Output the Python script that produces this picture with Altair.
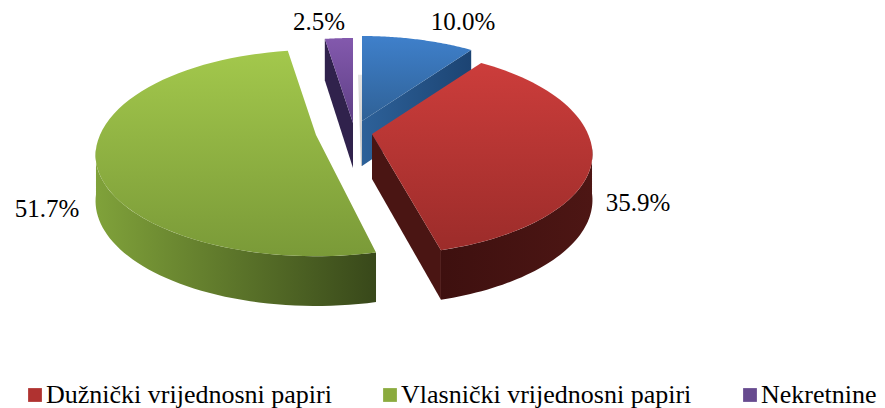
import numpy as np
import altair as alt

labels = ["Blue", "Dužnički vrijednosni papiri", "Vlasnički vrijednosni papiri", "Nekretnine"]
values = [10.0, 35.9, 51.7, 2.5]
pct_text = ["10.0%", "35.9%", "51.7%", "2.5%"]
legend_names = labels[1:]
legend_colors = ["#b03230", "#8bab3e", "#674b8f"]

M = 8
K = 0.2
A, B_BACK, B_FRONT = 216.0, 102.0, 97.0
DEPTH = 45.0
GREEN_START_TWEAK = 2.0
apex = {0: (362, 121), 1: (372, 134), 2: (316, 135), 3: (353, 123)}

cum = np.concatenate([[0], np.cumsum(values)]) / sum(values) * 360


def proj(c, th, r=1.0, low=False):
    t = np.radians(th)
    X, Y = r * np.sin(t), r * np.cos(t)
    s = 1 / (1 + K * Y)
    b = B_BACK if Y > 0 else B_FRONT
    px = c[0] + A * X * s - M
    py = c[1] - b * Y * s - M
    if low:
        py += DEPTH * s ** 0.45
    return [float(px), float(py)]


def grad(c1, c2, horizontal=False):
    return alt.Gradient(
        gradient="linear",
        stops=[alt.GradientStop(color=c1, offset=0), alt.GradientStop(color=c2, offset=1)],
        x1=0, x2=1 if horizontal else 0, y1=0, y2=0 if horizontal else 1,
    )


def shape(pts, fill, opacity=1.0):
    feat = {"type": "Feature", "properties": {},
            "geometry": {"type": "Polygon", "coordinates": [pts + [pts[0]]]}}
    return alt.Chart(alt.Data(values=[feat])).mark_geoshape(
        fill=fill, stroke=None, opacity=opacity
    ).project(type="identity", scale=1, translate=[0, 0])


def top(i, fill, a=None):
    c = apex[i]
    ths = np.linspace(cum[i] if a is None else a, cum[i + 1], 60)
    return shape([proj(c, 0, 0)] + [proj(c, t) for t in ths], fill)


def rim(i, a, b, fill):
    c = apex[i]
    ths = np.linspace(a, b, 50)
    return shape([proj(c, t) for t in ths] + [proj(c, t, low=True) for t in ths[::-1]], fill)


def cut(i, th, fill):
    c = apex[i]
    return shape([proj(c, 0, 0), proj(c, th), proj(c, th, low=True), proj(c, 0, 0, low=True)], fill)


green_start = cum[2] + GREEN_START_TWEAK
sx, sy = apex[0]
shadow = shape(
    [proj((sx - 4, sy), 0, 0.5), proj((sx, sy), 0, 0.5),
     proj((sx, sy), 0, 0, True), proj((sx - 1, sy), 0, 0, True)],
    grad("#e4e4e4", "#c4c4c4"),
)

layers = [
    # legend carrier
    alt.Chart(alt.Data(values=[{"n": n} for n in legend_names])).mark_square(opacity=0, size=1).encode(
        x=alt.value(10), y=alt.value(10),
        color=alt.Color("n:N", scale=alt.Scale(domain=legend_names, range=legend_colors),
                        legend=alt.Legend(
                            orient="none", legendX=14, legendY=374, direction="horizontal", columns=3,
                            title=None, symbolType="square", symbolSize=190, symbolOpacity=1,
                            labelFont="Liberation Serif", labelFontSize=26, labelColor="#000000",
                            labelOffset={"expr": "-2"}, columnPadding=45, symbolStrokeWidth=0, labelLimit=400)),
    ),
    shadow,
    # blue
    cut(0, cum[1], grad("#2d6199", "#1c4473", True)),
    top(0, grad("#3f80cb", "#2f6196")),
    # purple
    cut(3, cum[3], "#30224c"),
    top(3, grad("#8359ad", "#5e3f85")),
    # green
    rim(2, green_start, 262, grad("#80a23a", "#38481a", True)),
    top(2, grad("#a3c84c", "#7a9a38"), green_start),
    # red
    cut(1, cum[2], "#4a1513"),
    rim(1, 98, cum[2], grad("#3e100f", "#4d1614", True)),
    top(1, grad("#cc3d3b", "#9c2c2a")),
]

label_pos = [(463, 22), (638, 203), (47, 209), (319, 22)]
for t, (x, y) in zip(pct_text, label_pos):
    layers.append(
        alt.Chart(alt.Data(values=[{"t": t}])).mark_text(
            font="Liberation Serif", fontSize=25, color="#000000", align="center", baseline="middle"
        ).encode(text="t:N", x=alt.value(x - M), y=alt.value(y - M))
    )

chart = alt.layer(*layers).properties(
    width=869, height=400, padding=0, autosize=alt.AutoSizeParams(type="none")
).configure_view(stroke=None)
chart.save("out.html", embed_options={"renderer": "svg", "actions": False})
